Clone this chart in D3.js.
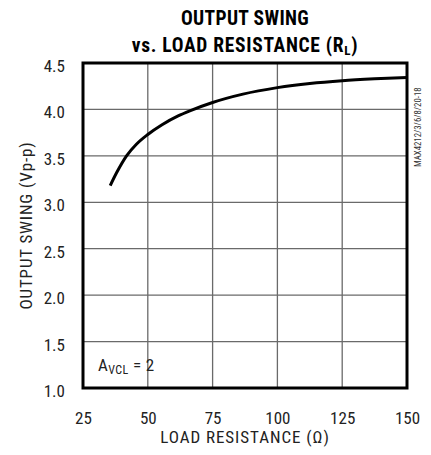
<!DOCTYPE html>
<html>
<head>
<meta charset="utf-8">
<script src="https://cdn.jsdelivr.net/npm/d3@7"></script>
<style>
  body { margin: 0; background: #fff; }
  text { font-family: "Liberation Sans Narrow", "Roboto Condensed", "DejaVu Sans Condensed", sans-serif; }
</style>
</head>
<body>
<div id="chart"></div>
<script>
// load resistance (ohm) vs output swing (Vp-p)
var resistance = [35.5, 38, 41.8, 45.6, 50, 55.5, 61.7, 66.2, 75, 86.7, 100, 112.5, 125, 137.5, 150]
var swing = [3.18, 3.32, 3.5, 3.625, 3.73, 3.835, 3.93, 3.985, 4.075, 4.165, 4.235, 4.28, 4.31, 4.33, 4.345]
var xTicks = [25, 50, 75, 100, 125, 150]
var yTicks = [1.0, 1.5, 2.0, 2.5, 3.0, 3.5, 4.0, 4.5]

var margin = {top: 63, right: 24, bottom: 67, left: 83},
  width = 431 - margin.left - margin.right,
  height = 455 - margin.top - margin.bottom

var svg = d3.select('#chart')
  .append('svg')
  .attr('width', 431)
  .attr('height', 455)

var g = svg.append('g')
  .attr('transform', 'translate(' + margin.left + ',' + margin.top + ')')

var x_scale = d3.scaleLinear().domain([25, 150]).range([0, width])
var y_scale = d3.scaleLinear().domain([1.0, 4.5]).range([height, 0])

// grid
g.selectAll('.vgrid')
  .data(xTicks.slice(1, -1))
  .enter()
  .append('line')
  .attr('x1', d => x_scale(d))
  .attr('x2', d => x_scale(d))
  .attr('y1', 0)
  .attr('y2', height)
  .attr('stroke', '#6a6a6a')
  .attr('stroke-width', 1.3)

g.selectAll('.hgrid')
  .data(yTicks.slice(1, -1))
  .enter()
  .append('line')
  .attr('x1', 0)
  .attr('x2', width)
  .attr('y1', d => y_scale(d))
  .attr('y2', d => y_scale(d))
  .attr('stroke', '#6a6a6a')
  .attr('stroke-width', 1.3)

// axes (labels only)
var y_axis = d3.axisLeft(y_scale).tickValues(yTicks).tickFormat(d3.format('.1f')).tickSize(0).tickPadding(18)
g.append('g')
  .attr('class', 'axis y-axis')
  .call(y_axis)
  .call(a => a.select('.domain').remove())
  .selectAll('text')
  .attr('font-size', 17)
  .attr('dy', '0.5em')
  .attr('fill', '#222')

var x_axis = d3.axisBottom(x_scale).tickValues(xTicks).tickSize(0).tickPadding(24)
g.append('g')
  .attr('class', 'axis x-axis')
  .attr('transform', 'translate(0,' + height + ')')
  .call(x_axis)
  .call(a => a.select('.domain').remove())
  .selectAll('text')
  .attr('font-size', 17)
  .attr('fill', '#222')

// frame
g.append('rect')
  .attr('x', 0)
  .attr('y', 0)
  .attr('width', width)
  .attr('height', height)
  .attr('fill', 'none')
  .attr('stroke', '#000')
  .attr('stroke-width', 3)

// curve
var line = d3.line()
  .x((d, i) => x_scale(resistance[i]))
  .y(d => y_scale(d))
  .curve(d3.curveMonotoneX)

g.append('path')
  .datum(swing)
  .attr('d', line)
  .attr('fill', 'none')
  .attr('stroke', '#000')
  .attr('stroke-width', 3)

// annotation
var ann = g.append('text')
  .attr('x', 15)
  .attr('y', y_scale(1.25) + 6)
  .attr('font-size', 17)
  .attr('letter-spacing', 0.4)
  .attr('fill', '#222')
ann.append('tspan').text('A')
ann.append('tspan').attr('font-size', 12).attr('dy', 3).text('VCL')
ann.append('tspan').attr('dy', -3).text(' = 2')

// titles
svg.append('text')
  .attr('x', 245)
  .attr('y', 25)
  .attr('text-anchor', 'middle')
  .attr('font-size', 19.5)
  .attr('font-weight', 'bold')
  .attr('letter-spacing', 0.35)
  .text('OUTPUT SWING')

var t2 = svg.append('text')
  .attr('x', 245)
  .attr('y', 52)
  .attr('text-anchor', 'middle')
  .attr('font-size', 19.5)
  .attr('font-weight', 'bold')
  .attr('letter-spacing', 0.7)
t2.append('tspan').text('vs. LOAD RESISTANCE (R')
t2.append('tspan').attr('font-size', 13).attr('dy', 3).text('L')
t2.append('tspan').attr('dy', -3).text(')')

svg.append('text')
  .attr('x', margin.left + width / 2)
  .attr('y', 443)
  .attr('text-anchor', 'middle')
  .attr('font-size', 17)
  .attr('letter-spacing', 0.95)
  .attr('fill', '#222')
  .text('LOAD RESISTANCE (\u03A9)')

svg.append('text')
  .attr('transform', 'translate(32,' + (margin.top + height / 2) + ') rotate(-90)')
  .attr('text-anchor', 'middle')
  .attr('font-size', 17)
  .attr('letter-spacing', 0.85)
  .attr('fill', '#222')
  .text('OUTPUT SWING (Vp-p)')

svg.append('text')
  .attr('transform', 'translate(421,167) rotate(-90)')
  .attr('font-size', 8.8)
  .attr('fill', '#333')
  .text('MAX4212/3/6/8/20-18')
</script>
</body>
</html>
